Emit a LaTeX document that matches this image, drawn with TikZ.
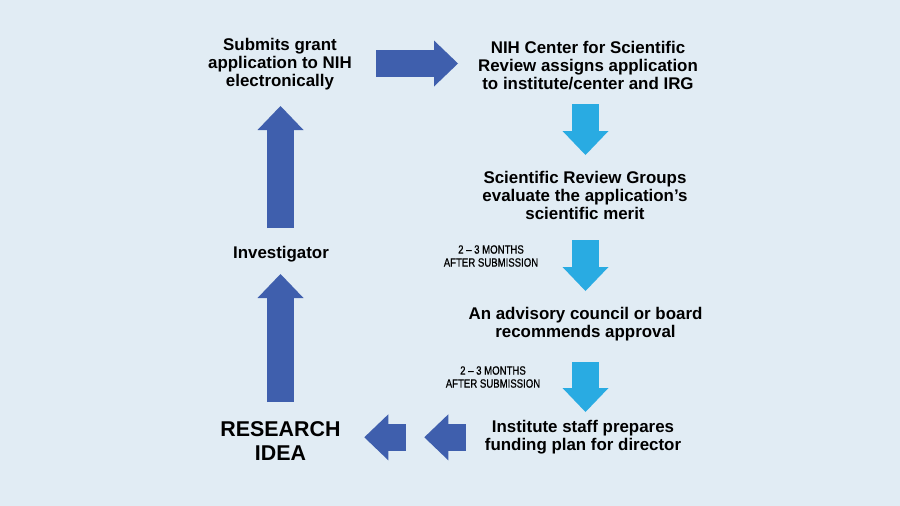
\documentclass[tikz,border=0pt]{standalone}
\usepackage{fontspec}
\setmainfont{Liberation Sans}
\newfontfamily\condfont[FakeStretch=0.8,FakeBold=0.7]{Liberation Sans}
\usetikzlibrary{arrows.meta}
\definecolor{bgblue}{HTML}{E1ECF4}
\definecolor{darkblue}{HTML}{3F5FAD}
\definecolor{lightblue}{HTML}{29ABE2}
\tikzstyle{node_step} = [align=center, inner sep=0pt, font=\fontsize{16.9}{18}\selectfont\bfseries]
\tikzstyle{node_big} = [align=center, inner sep=0pt, font=\fontsize{21.4}{23.5}\selectfont\bfseries]
\tikzstyle{node_note} = [align=center, inner sep=0pt, font=\fontsize{12}{13}\selectfont\condfont]
\tikzstyle{edge_dark} = [line width=27pt, darkblue, -{Triangle[length=24pt,width=46pt,line width=0pt]}]
\tikzstyle{edge_light} = [line width=27pt, lightblue, -{Triangle[length=24pt,width=46pt,line width=0pt]}]
\begin{document}
\begin{tikzpicture}[x=1pt,y=-1pt]
			\fill[bgblue] (0,0) rectangle (900,506);
			
			\node (S) at (280,64.5) [node_step] {Submits grant\\application to NIH\\electronically};
			\node (C) at (588,65.5) [node_step] {NIH Center for Scientific\\Review assigns application\\to institute/center and IRG};
			\node (G) at (585,195) [node_step] {Scientific Review Groups\\evaluate the application’s\\scientific merit};
			\node (A) at (585.5,324) [node_step] {An advisory council or board\\recommends approval};
			\node (P) at (583,437.5) [node_step] {Institute staff prepares\\funding plan for director};
			\node (I) at (281,254) [node_step] {Investigator};
			\node (R) at (280.5,441) [node_big] {RESEARCH\\IDEA};
			\node (N1) at (491,256) [node_note] {2 – 3 MONTHS\\AFTER SUBMISSION};
			\node (N2) at (493,377) [node_note] {2 – 3 MONTHS\\AFTER SUBMISSION};
			
			\coordinate (s1) at (376,63.5);   \coordinate (c1) at (458,63.5);
			\coordinate (c2) at (585.5,104);  \coordinate (g1) at (585.5,155);
			\coordinate (g2) at (585.5,240);  \coordinate (a1) at (585.5,291);
			\coordinate (a2) at (585.5,362);  \coordinate (p1) at (585.5,412);
			\coordinate (p2) at (465.7,437.3);\coordinate (m1) at (424.3,437.3);
			\coordinate (m2) at (405.7,437.3);\coordinate (r1) at (364.3,437.3);
			\coordinate (r2) at (280.5,402);  \coordinate (i1) at (280.5,274);
			\coordinate (i2) at (280.5,228);  \coordinate (s2) at (280.5,106);
			
			\draw[edge_dark] (s1)--(c1);
			\draw[edge_light] (c2)--(g1);
			\draw[edge_light] (g2)--(a1);
			\draw[edge_light] (a2)--(p1);
			\draw[edge_dark] (p2)--(m1);
			\draw[edge_dark] (m2)--(r1);
			\draw[edge_dark] (r2)--(i1);
			\draw[edge_dark] (i2)--(s2);
		\end{tikzpicture}
\end{document}
